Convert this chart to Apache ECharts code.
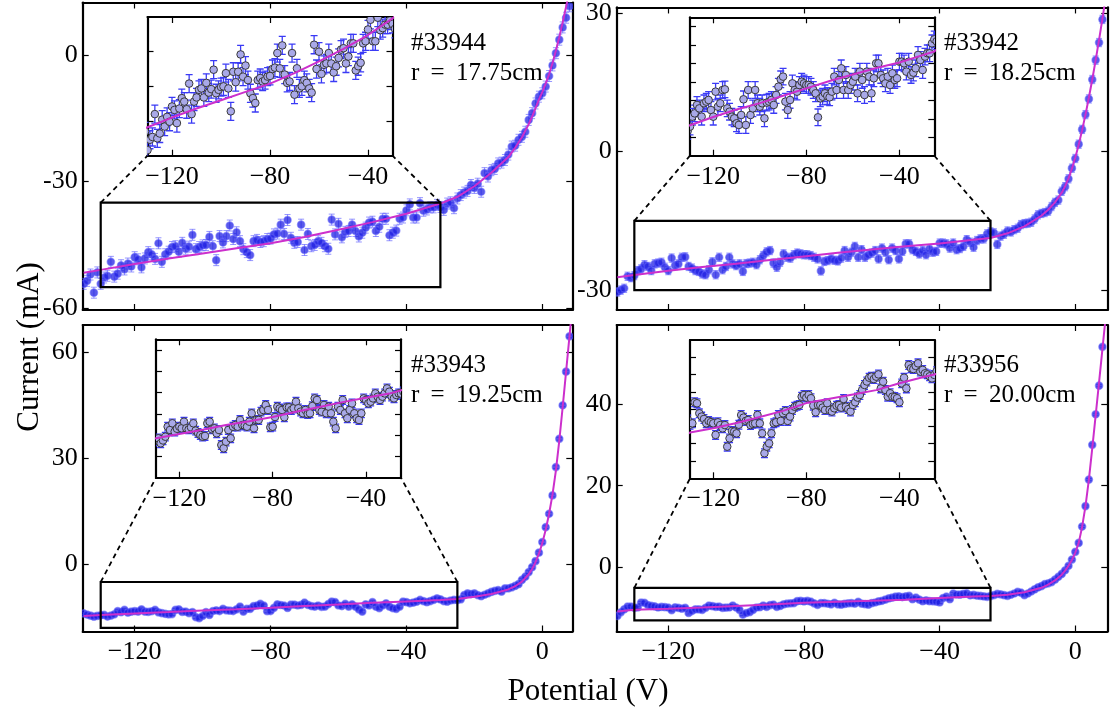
<!DOCTYPE html>
<html><head><meta charset="utf-8">
<script src="https://cdn.jsdelivr.net/npm/echarts@6/dist/echarts.min.js"></script>
<style>html,body{margin:0;padding:0;background:#fff}#c{width:1115px;height:720px}</style>
</head><body><div id="c"></div>
<script>
// ---------------- data ----------------
const voltage = [-135,-134,-133,-132,-131,-130,-129,-128,-127,-126,-125,-124,-123,-122,-121,-120,-119,-118,-117,-116,-115,-114,-113,-112,-111,-110,-109,-108,-107,-106,-105,-104,-103,-102,-101,-100,-99,-98,-97,-96,-95,-94,-93,-92,-91,-90,-89,-88,-87,-86,-85,-84,-83,-82,-81,-80,-79,-78,-77,-76,-75,-74,-73,-72,-71,-70,-69,-68,-67,-66,-65,-64,-63,-62,-61,-60,-59,-58,-57,-56,-55,-54,-53,-52,-51,-50,-49,-48,-47,-46,-45,-44,-43,-42,-41,-40,-39,-38,-37,-36,-35,-34,-33,-32,-31,-30,-29,-28,-27,-26,-25,-24,-23,-22,-21,-20,-19,-18,-17,-16,-15,-14,-13,-12,-11,-10,-9,-8,-7,-6,-5,-4,-3,-2,-1,0,1,2,3,4,5,6,7,8];

const current1 = [-54.2,-53.5,-52.0,-56.3,-51.5,
-54.2,-52.7,-52.3,-49.0,-52.5,-51.8,-49.8,-50.8,-49.4,-50.1,
-47.9,-48.4,-50.3,-48.2,-46.7,-47.2,-48.3,-44.6,-49.0,-47.2,
-46.6,-45.5,-45.3,-46.6,-44.5,-45.9,-45.4,-42.6,-46.0,-45.5,
-45.1,-45.0,-43.1,-45.3,-48.6,-42.9,-44.4,-42.9,-40.4,-43.6,
-42.0,-44.1,-46.0,-46.7,-47.4,-44.1,-43.8,-44.3,-44.1,-43.6,
-43.5,-42.5,-42.3,-40.2,-42.4,-39.1,-43.3,-44.5,-44.3,-40.2,
-46.2,-42.4,-45.3,-45.0,-44.1,-44.5,-45.3,-45.9,-39.0,-42.5,
-40.0,-43.2,-41.9,-41.7,-40.2,-41.7,-43.0,-42.1,-40.9,-39.7,
-39.5,-41.7,-40.7,-38.8,-38.8,-42.7,-42.1,-41.6,-38.8,-38.5,
-36.8,-35.4,-38.5,-38.5,-35.1,-36.9,-36.6,-36.1,-36.1,
-35.5,-36.0,-36.7,-35.2,-34.9,-36.3,-34.0,-33.2,-32.6,-32.2,
-30.8,-31.5,-30.5,-32.4,-28.0,-28.8,-27.3,-27.0,-25.7,-25.5,
-24.9,-23.6,-21.7,-21.5,-20.1,-19.4,-18.2,-15.4,-13.8,-11.5,
-9.9,-9.1,-7.5,-5.0,-2.5,0.4,3.6,6.5,8.8,11.5];

const current2 = [-30.4,-30.0,-29.6,-27.0,-27.3,
-26.85,-25.77,-25.41,-24.50,-24.87,-25.77,-24.32,-24.14,-23.96,-25.05,
-25.77,-23.06,-24.69,-24.32,-22.88,-22.81,-24.87,-25.23,-25.77,-25.95,
-26.49,-26.67,-25.59,-23.89,-26.67,-22.88,-25.59,-24.87,-22.88,-24.32,
-24.69,-24.32,-25.95,-24.25,-24.14,-23.96,-24.50,-23.42,-22.52,-21.72,
-21.43,-24.14,-25.05,-23.96,-22.16,-22.88,-23.06,-22.34,-21.98,-22.16,
-22.34,-22.34,-22.52,-22.88,-23.24,-25.84,-23.78,-23.60,-23.24,-23.53,
-23.67,-23.06,-21.43,-22.88,-21.79,-20.53,-22.88,-21.25,-22.88,-22.34,
-21.98,-21.43,-23.24,-20.89,-21.79,-23.42,-20.89,-21.43,-23.24,-21.61,
-19.99,-19.99,-21.25,-21.61,-22.16,-21.43,-22.34,-21.07,-21.79,-21.61,
-19.81,-19.81,-19.99,-20.89,-19.81,-21.25,-21.00,-20.53,-19.08,-19.63,
-20.71,-19.26,-18.90,-18.90,-17.82,-17.39,
-17.6,-20.1,-18.3,-17.9,-17.2,-17.4,-16.9,-16.6,-15.8,-15.6,
-15.5,-15.3,-14.6,-13.7,-13.4,-13.2,-12.9,-11.9,-11.0,-10.5,
-8.6,-7.6,-5.9,-3.6,-1.5,1.6,4.8,8.0,11.4,15.6,
19.8,23.6,28.6];

const current3 = [-13.9,-14.2,-14.5,-14.8,-14.6,
-14.4,-14.30,-14.77,-14.5,-14.15,-13.21,-13.52,-12.89,-13.68,-13.4,
-13.21,-13.36,-12.74,-13.36,-13.46,-13.27,-12.89,-13.58,-13.8,-13.99,
-14.15,-14.08,-12.89,-12.74,-13.46,-13.36,-13.83,-13.52,-14.93,-15.24,
-14.62,-13.52,-14.30,-13.21,-13.05,-13.21,-12.58,-13.05,-13.1,-13.21,
-12.74,-11.95,-13.36,-12.58,-12.58,-11.80,-11.64,-11.17,-11.64,-13.27,
-13.21,-12.3,-11.33,-11.5,-11.64,-12.33,-11.39,-11.39,-11.64,-11.48,
-10.86,-11.48,-11.80,-11.95,-11.64,-12.02,-11.95,-11.27,-10.55,-10.70,
-11.64,-11.80,-11.17,-11.95,-11.33,-11.95,-12.74,-13.36,-11.33,-11.64,
-10.70,-11.95,-12.42,-11.64,-11.02,-11.95,-12.42,-12.58,-11.95,-10.55,
-10.70,-11.02,-10.86,-10.55,-10.08,-10.4,-10.70,-10.39,-10.08,-9.61,
-9.92,-10.39,-10.55,-10.23,-10.08,-10.1,
-9.9,-8.7,-8.2,-8.4,-8.2,-8.7,-9.0,-8.6,-8.2,-7.8,
-7.5,-7.3,-7.7,-6.8,-6.8,-6.5,-6.1,-5.6,-4.4,-3.5,
-2.2,-0.8,0.9,3.3,6.3,10.5,14.3,19.5,27.5,35.5,
45.0,54.5,64.5];

const current4 = [-11.9,-11.0,-10.3,-9.6,-9.6,
-9.9,-9.82,-8.60,-8.66,-9.24,-9.43,-9.57,-9.82,-9.68,-9.75,
-9.82,-10.49,-9.76,-9.92,-10.11,-9.92,-11.17,-10.69,-10.26,-10.30,
-10.40,-9.9,-9.34,-9.49,-9.68,-9.63,-9.92,-9.85,-9.82,-9.34,
-9.82,-10.40,-11.55,-11.17,-10.98,-10.4,-9.82,-9.76,-9.34,-9.68,
-9.24,-9.11,-9.68,-9.43,-9.05,-8.86,-8.8,-8.76,-8.28,-8.18,
-8.33,-8.18,-8.37,-8.8,-9.18,-8.76,-8.76,-8.91,-9.05,-8.66,
-9.05,-9.14,-8.95,-8.8,-8.76,-8.91,-8.41,-8.86,-9.0,-9.14,
-8.76,-8.60,-8.33,-8.18,-7.89,-7.60,-7.40,-7.18,-7.12,-7.26,
-7.12,-6.99,-7.80,-7.41,-7.89,-8.28,-8.08,-8.28,-8.30,-8.37,
-8.60,-7.51,-7.18,-7.80,-6.45,-6.64,-6.68,-6.5,-6.35,-6.83,
-6.73,-6.93,-6.99,-7.1,-7.22,-7.02,
-6.8,-6.5,-6.6,-6.8,-7.0,-6.7,-6.4,-6.0,-6.2,-6.8,
-6.4,-5.9,-5.4,-4.9,-4.6,-4.1,-3.9,-3.6,-3.0,-2.3,
-1.6,-0.7,0.4,1.9,3.8,6.0,10.0,15.0,21.5,30.0,
37.5,44.5,54.0];

// error bar half-lengths (mA)
const err1 = 1.3, err2 = 0.9, err3 = 0.4, err4 = 0.25;

// fitted curves
const fitVoltage = [-135,-130,-120,-110,-100,-90,-80,-70,-60,-50,-40,-30,-25,-20,-15,-10,-8,-6,-4,-3,-2,-1,0,1,2,3,4,5,6,7,8,9,10];
const fit1 = [-51.6,-50.9,-49.5,-48.2,-47.0,-45.8,-44.6,-43.1,-41.4,-39.6,-37.6,-35.2,-33.6,-31.1,-27.9,-24.2,-22.0,-19.5,-16.4,-14.6,-12.6,-10.6,-8.8,-6.8,-4.6,-2.0,1.0,4.2,7.7,11.4,15.3,19.5,24.0];
const fit2 = [-27.2,-26.7,-25.8,-25.0,-24.3,-23.5,-22.7,-21.9,-21.2,-20.5,-19.9,-19.1,-18.7,-17.7,-16.2,-13.9,-12.6,-11.0,-8.9,-7.5,-5.8,-3.7,-1.3,1.5,4.6,8.0,11.7,15.6,19.8,24.2,28.8,33.6,38.6];
const fit3 = [-14.6,-14.3,-13.9,-13.5,-13.05,-12.7,-12.3,-11.8,-11.35,-10.9,-10.5,-10.1,-9.8,-9.2,-8.4,-7.1,-6.2,-4.9,-2.8,-1.3,0.6,3.0,6.0,9.8,14.3,19.7,26.5,35.0,44.5,54.5,64.5,74.5,85.0];
const fit4 = [-10.8,-10.35,-10.1,-9.8,-9.45,-9.1,-8.65,-8.4,-8.15,-7.9,-7.5,-7.15,-7.0,-6.7,-6.1,-5.0,-4.2,-3.2,-1.8,-0.8,0.4,1.8,3.6,6.0,9.9,15.0,21.5,29.2,37.2,45.3,53.5,61.7,70.0];

// labels and ticks
const shots = ['#33944', '#33942', '#33943', '#33956'];
const radii = ['17.75cm', '18.25cm', '19.25cm', '20.00cm'];
const xTicks = [-120, -80, -40, 0];
const insetXTicks = [-120, -80, -40];
const yTicks1 = [-60, -30, 0];
const yTicks2 = [-30, 0, 30];
const yTicks3 = [0, 30, 60];
const yTicks4 = [0, 20, 40];
const insetYTicks1 = [-50, -45, -40];
const insetYTicks2 = [-28, -26, -24, -22, -20, -18, -16];
const insetYTicks3 = [-16, -14, -12, -10, -8, -6];
const insetYTicks4 = [-12, -11, -10, -9, -8, -7, -6];
// zoomed windows [xmin, xmax], [ymin, ymax]
const zoomX1 = [-130, -30], zoomY1 = [-55, -35];
const zoomX2 = [-130, -25], zoomY2 = [-30, -15];
const zoomX3 = [-130, -25], zoomY3 = [-18, -5];
const zoomX4 = [-130, -25], zoomY4 = [-13, -5];
// main axis ranges
const xRange1 = [-135.3, 8.83], yRange1 = [-60.4, 12.4];
const xRange2 = [-135.2, 9.43], yRange2 = [-34.3, 31.2];
const xRange3 = [-135.3, 8.83], yRange3 = [-19.0, 67.7];
const xRange4 = [-135.2, 9.43], yRange4 = [-15.7, 59.35];
const xLabel = 'Potential (V)';
const yLabel = 'Current (mA)';

// ---------------- layout ----------------
const FONT = 'Liberation Serif';
const mainGrids = [
  {left: 82.7, top: 2.5, width: 489.6, height: 307.5},
  {left: 616.7, top: 2.5, width: 490.6, height: 307.5},
  {left: 82.7, top: 325, width: 489.6, height: 306.5},
  {left: 616.7, top: 325, width: 490.6, height: 306.5}
];
const insetGrids = [
  {left: 147.5, top: 17, width: 245, height: 138.7},
  {left: 690, top: 17.3, width: 244.3, height: 138.4},
  {left: 156, top: 339.3, width: 245, height: 138.4},
  {left: 690, top: 340, width: 244.3, height: 138.3}
];
const textPos = [[411, 28], [944, 28], [411, 350], [944, 350]];

const panels = [
  {cur: current1, err: err1, fit: fit1, zx: zoomX1, zy: zoomY1, xr: xRange1, yr: yRange1, yt: yTicks1, iyt: insetYTicks1, xlab: false},
  {cur: current2, err: err2, fit: fit2, zx: zoomX2, zy: zoomY2, xr: xRange2, yr: yRange2, yt: yTicks2, iyt: insetYTicks2, xlab: false},
  {cur: current3, err: err3, fit: fit3, zx: zoomX3, zy: zoomY3, xr: xRange3, yr: yRange3, yt: yTicks3, iyt: insetYTicks3, xlab: true},
  {cur: current4, err: err4, fit: fit4, zx: zoomX4, zy: zoomY4, xr: xRange4, yr: yRange4, yt: yTicks4, iyt: insetYTicks4, xlab: true}
];

const minusFmt = v => (v < 0 ? '\u2212' + (-v) : String(v));

function axisCommon(ticks, showLabel, fmt, margin) {
  return {
    type: 'value',
    axisLine: {show: true, onZero: false, lineStyle: {color: '#000', width: 2.2}},
    axisTick: {show: true, inside: true, length: 6, customValues: ticks, lineStyle: {color: '#000', width: 1.2}},
    axisLabel: {show: showLabel, customValues: ticks, formatter: fmt, color: '#000', fontFamily: FONT, fontSize: 26, margin: margin},
    splitLine: {show: false}
  };
}

const grids = [], xAxes = [], yAxes = [], series = [];

function addGrid(g, xr, yr, xt, yt, xShow, yShow, bg) {
  const gi = grids.length;
  grids.push(Object.assign({containLabel: false, show: !!bg, backgroundColor: bg || 'transparent', borderWidth: 0}, g));
  xAxes.push(Object.assign(axisCommon(xt, xShow, minusFmt, 8), {gridIndex: gi, min: xr[0], max: xr[1], position: 'bottom'}));
  xAxes.push(Object.assign(axisCommon(xt, false, minusFmt, 8), {gridIndex: gi, min: xr[0], max: xr[1], position: 'top'}));
  yAxes.push(Object.assign(axisCommon(yt, yShow, v => String(v), 5), {gridIndex: gi, min: yr[0], max: yr[1], position: 'left'}));
  yAxes.push(Object.assign(axisCommon(yt, false, v => String(v), 5), {gridIndex: gi, min: yr[0], max: yr[1], position: 'right'}));
  return gi;
}

function barsItem(cap, color, width) {
  return function (params, api) {
    const x = api.value(0), y = api.value(1), e = api.value(2);
    const hi = api.coord([x, y + e]), lo = api.coord([x, y - e]);
    const cx = hi[0];
    const st = {stroke: color, lineWidth: width};
    return {type: 'group', children: [
      {type: 'line', shape: {x1: cx, y1: hi[1], x2: cx, y2: lo[1]}, style: st},
      {type: 'line', shape: {x1: cx - cap, y1: hi[1], x2: cx + cap, y2: hi[1]}, style: st},
      {type: 'line', shape: {x1: cx - cap, y1: lo[1], x2: cx + cap, y2: lo[1]}, style: st}
    ]};
  };
}
function markerItem(r, fill, stroke, lw) {
  return function (params, api) {
    const p = api.coord([api.value(0), api.value(1)]);
    return {type: 'circle', shape: {cx: p[0], cy: p[1], r: r}, style: {fill: fill, stroke: stroke, lineWidth: lw}};
  };
}
function rectItem(params, api) {
  const a = api.coord([api.value(0), api.value(3)]);
  const b = api.coord([api.value(2), api.value(1)]);
  return {type: 'rect', shape: {x: a[0], y: a[1], width: b[0] - a[0], height: b[1] - a[1]},
    style: {fill: 'none', stroke: '#000', lineWidth: 2.2}};
}

const mainIdx = [], insetIdx = [];
panels.forEach((p, i) => {
  mainIdx.push(addGrid(mainGrids[i], p.xr, p.yr, xTicks, p.yt, p.xlab, true, null));
});
panels.forEach((p, i) => {
  insetIdx.push(addGrid(insetGrids[i], [p.zx[0], p.zx[1]], [p.zy[0], p.zy[1]], insetXTicks, p.iyt, true, false, '#ffffff'));
});

panels.forEach((p, i) => {
  const pts = voltage.map((v, k) => [v, p.cur[k], p.err]);
  const fitData = fitVoltage.map((v, k) => [v, p.fit[k]]);
  const gm = mainIdx[i], gi = insetIdx[i];
  // main panel
  series.push({type: 'custom', xAxisIndex: 2 * gm, yAxisIndex: 2 * gm, data: pts, clip: true, z: 2, silent: true,
    encode: {x: 0, y: 1}, renderItem: barsItem(3, 'rgba(80,80,255,0.6)', 1)});
  series.push({type: 'custom', xAxisIndex: 2 * gm, yAxisIndex: 2 * gm, data: pts, clip: true, z: 3, silent: true,
    encode: {x: 0, y: 1}, renderItem: markerItem(3.6, 'rgba(25,25,225,0.72)', 'rgba(90,90,250,0.55)', 1.5)});
  series.push({type: 'line', xAxisIndex: 2 * gm, yAxisIndex: 2 * gm, data: fitData, clip: true, z: 4, silent: true,
    showSymbol: false, symbol: 'none', lineStyle: {color: '#cc2fcc', width: 2}});
  series.push({type: 'custom', xAxisIndex: 2 * gm, yAxisIndex: 2 * gm, z: 5, silent: true,
    data: [[p.zx[0], p.zy[0], p.zx[1], p.zy[1]]], encode: {x: [0, 2], y: [1, 3]}, renderItem: rectItem});
  // inset
  series.push({type: 'custom', xAxisIndex: 2 * gi, yAxisIndex: 2 * gi, data: pts, clip: true, z: 2, silent: true,
    encode: {x: 0, y: 1}, renderItem: barsItem(3.5, '#3a3af5', 1.3)});
  series.push({type: 'custom', xAxisIndex: 2 * gi, yAxisIndex: 2 * gi, data: pts, clip: true, z: 3, silent: true,
    encode: {x: 0, y: 1}, renderItem: markerItem(3.8, '#a9a9e8', '#3a3a3a', 1)});
  series.push({type: 'line', xAxisIndex: 2 * gi, yAxisIndex: 2 * gi, data: fitData, clip: true, z: 4, silent: true,
    showSymbol: false, symbol: 'none', lineStyle: {color: '#cc2fcc', width: 2}});
});

const chart = echarts.init(document.getElementById('c'), null, {renderer: 'canvas'});
chart.setOption({
  animation: false,
  backgroundColor: '#ffffff',
  textStyle: {fontFamily: FONT},
  grid: grids, xAxis: xAxes, yAxis: yAxes, series: series
});

// annotations, axis titles, connectors
const elements = [];
panels.forEach((p, i) => {
  elements.push({type: 'text', left: textPos[i][0], top: textPos[i][1], z: 100,
    style: {text: shots[i] + '\nr \u2009= \u2009' + radii[i], fill: '#000', font: '25px "' + FONT + '"', lineHeight: 30}});
  const gm = mainIdx[i], gi = insetIdx[i];
  const a1 = chart.convertToPixel({xAxisIndex: 2 * gm, yAxisIndex: 2 * gm}, [p.zx[0], p.zy[1]]);
  const b1 = chart.convertToPixel({xAxisIndex: 2 * gi, yAxisIndex: 2 * gi}, [p.zx[0], p.zy[0]]);
  const a2 = chart.convertToPixel({xAxisIndex: 2 * gm, yAxisIndex: 2 * gm}, [p.zx[1], p.zy[1]]);
  const b2 = chart.convertToPixel({xAxisIndex: 2 * gi, yAxisIndex: 2 * gi}, [p.zx[1], p.zy[0]]);
  [[a1, b1], [a2, b2]].forEach(([a, b]) => {
    elements.push({type: 'line', z: 100, silent: true,
      shape: {x1: a[0], y1: a[1], x2: b[0], y2: b[1]},
      style: {stroke: '#000', lineWidth: 1.8, lineDash: [5, 4]}});
  });
});
elements.push({type: 'text', x: 588, y: 692, z: 100,
  style: {text: xLabel, fill: '#000', font: '31px "' + FONT + '"', align: 'center', verticalAlign: 'middle'}});
elements.push({type: 'text', x: 30, y: 347, rotation: Math.PI / 2, z: 100,
  style: {text: yLabel, fill: '#000', font: '31px "' + FONT + '"', align: 'center', verticalAlign: 'middle'}});
chart.setOption({graphic: {elements: elements}});
</script></body></html>
